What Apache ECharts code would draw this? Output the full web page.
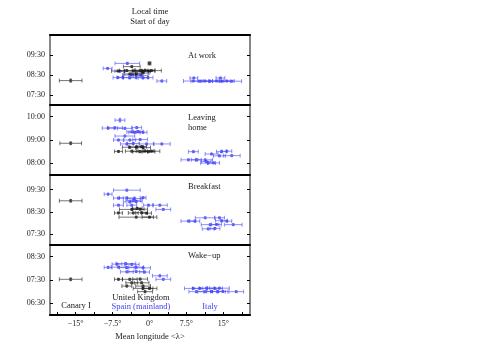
<!DOCTYPE html>
<html><head><meta charset="utf-8">
<script src="https://cdn.jsdelivr.net/npm/echarts@6/dist/echarts.min.js"></script>
<style>html,body{margin:0;padding:0;background:#fff}#c{width:500px;height:350px}</style>
</head><body><div id="c"></div>
<script>
// Each row: [mean longitude, longitude spread, local time (hours), time error (hours), group 0=black(UK/Canary) 1=blue(Spain/Italy)]
const atWork = [
  [-16.0,2.3,8.22,0.08,0],
  [-8.5,0.9,8.83,0.04,1],[-4.5,2.5,9.08,0.05,1],[-6.0,1.0,8.69,0.04,1],
  [-6.4,1.0,8.37,0.04,1],[-5.4,1.2,8.38,0.04,1],[-4.0,1.3,8.36,0.04,1],[-2.7,1.2,8.38,0.04,1],[-1.3,1.0,8.36,0.04,1],[-0.3,1.0,8.37,0.04,1],
  [-3.5,2.0,8.5,0.04,1],[-1.8,1.5,8.48,0.04,1],
  [2.5,1.0,8.2,0.05,1],
  [8.9,2.0,8.2,0.04,1],[10.2,1.8,8.19,0.04,1],[11.3,1.5,8.2,0.04,1],[12.3,1.8,8.19,0.04,1],[13.6,1.5,8.2,0.04,1],[14.6,1.8,8.19,0.04,1],[15.7,1.5,8.2,0.04,1],[16.7,2.0,8.19,0.04,1],
  [9.0,0.8,8.35,0.04,1],[14.4,0.9,8.35,0.04,1],
  [0.0,0.3,9.08,0.08,0],[-3.6,1.7,8.92,0.04,0],
  [-6.4,1.3,8.7,0.04,0],[-4.6,1.5,8.72,0.04,0],[-3.3,1.8,8.7,0.04,0],[-1.9,1.6,8.72,0.04,0],[-1.3,1.5,8.68,0.04,0],[-0.9,2.0,8.74,0.04,0],[-0.2,1.3,8.7,0.04,0],[0.4,2.0,8.72,0.04,0],
  [-4.0,1.2,8.55,0.04,0],[-2.7,1.0,8.55,0.04,0],[-1.3,1.2,8.6,0.04,0]
];
const leavingHome = [
  [-16.0,2.2,8.86,0.06,0],
  [-6.0,1.0,9.85,0.08,1],
  [-8.4,1.2,9.51,0.04,1],[-7.0,1.5,9.52,0.04,1],[-5.0,1.5,9.5,0.04,1],[-2.6,1.0,9.53,0.04,1],
  [-3.6,1.0,9.35,0.04,1],[-3.0,1.2,9.33,0.04,1],[-2.3,1.0,9.36,0.04,1],[-1.3,0.8,9.33,0.04,1],
  [-5.0,2.0,9.17,0.04,1],
  [-6.3,1.0,9.0,0.04,1],[-4.0,1.2,9.0,0.04,1],[-1.9,1.5,9.02,0.04,1],
  [-4.6,1.3,8.83,0.04,1],[-3.3,1.2,8.85,0.04,1],[-0.6,1.5,8.83,0.04,1],[2.5,1.7,8.83,0.04,1],
  [8.9,1.0,8.5,0.04,1],[14.6,1.0,8.5,0.04,1],[15.7,1.0,8.52,0.04,1],[12.6,1.3,8.4,0.04,1],[14.2,1.2,8.32,0.04,1],[16.7,1.7,8.33,0.04,1],
  [7.9,1.5,8.15,0.04,1],[9.5,1.0,8.15,0.04,1],[11.3,1.5,8.15,0.04,1],[11.9,1.5,8.01,0.04,1],[13.0,1.2,8.02,0.04,1],[11.5,1.0,8.08,0.04,1],
  [-4.0,1.5,8.69,0.04,0],[-2.7,1.5,8.7,0.04,0],[-1.6,1.0,8.72,0.04,0],[-1.3,1.5,8.67,0.04,0],
  [-6.3,0.8,8.51,0.04,0],[-3.6,1.3,8.52,0.04,0],[-1.9,1.5,8.5,0.04,0],[-0.9,1.8,8.53,0.04,0],[-0.2,1.3,8.5,0.04,0],[0.4,1.7,8.52,0.04,0]
];
const breakfast = [
  [-16.0,2.3,9.0,0.06,0],
  [-4.6,2.7,9.48,0.04,1],[-8.4,0.8,9.3,0.04,1],
  [-6.3,1.0,9.12,0.04,1],[-4.6,1.5,9.13,0.04,1],[-3.0,1.5,9.1,0.04,1],[-1.3,0.6,9.14,0.04,1],
  [-4.0,1.3,8.95,0.04,1],[-2.7,1.2,8.97,0.04,1],[-3.3,1.5,9.02,0.04,1],
  [-6.3,1.0,8.8,0.04,1],[-3.6,1.0,8.8,0.04,1],[-0.2,1.0,8.8,0.04,1],[2.1,1.5,8.8,0.04,1],
  [2.8,1.5,8.61,0.04,1],
  [11.3,2.0,8.23,0.04,1],[14.2,1.0,8.23,0.04,1],[7.9,1.5,8.08,0.04,1],[9.2,1.0,8.08,0.04,1],[14.6,1.2,8.1,0.04,1],[15.7,1.0,8.08,0.04,1],
  [12.3,1.8,7.92,0.04,1],[13.6,1.0,7.93,0.04,1],[17.0,1.8,7.92,0.04,1],[11.9,1.2,7.73,0.04,1],[13.3,1.0,7.75,0.04,1],
  [-3.6,2.5,8.61,0.04,0],[-1.9,1.5,8.62,0.04,0],[-2.5,1.0,8.66,0.04,0],
  [-6.3,0.8,8.45,0.04,0],[-3.3,1.0,8.45,0.04,0],[-1.6,1.2,8.46,0.04,0],[-0.6,1.0,8.44,0.04,0],
  [-2.7,3.5,8.26,0.04,0],[0.0,1.5,8.26,0.04,0]
];
const wakeUp = [
  [-16.0,2.3,7.53,0.06,0],
  [-6.6,1.0,8.18,0.04,1],[-4.8,2.0,8.2,0.04,1],[-3.6,1.5,8.17,0.04,1],
  [-8.4,0.8,8.04,0.04,1],[-6.3,1.5,8.05,0.04,1],[-4.6,1.5,8.03,0.04,1],[-2.7,1.5,8.05,0.04,1],[-1.3,1.5,8.02,0.04,1],
  [-4.6,1.3,7.85,0.04,1],[-2.7,1.5,7.86,0.04,1],[-1.0,1.0,7.84,0.04,1],
  [2.1,1.5,7.68,0.04,1],[2.8,1.5,7.53,0.04,1],
  [8.9,1.8,7.14,0.04,1],[10.2,1.5,7.14,0.04,1],[11.6,1.5,7.15,0.04,1],[13.3,1.5,7.14,0.04,1],[14.2,2.0,7.15,0.04,1],
  [9.5,1.5,7.0,0.04,1],[11.3,1.5,7.0,0.04,1],[12.6,1.0,7.01,0.04,1],[13.9,1.5,7.0,0.04,1],[14.9,1.0,7.01,0.04,1],[17.6,1.5,7.0,0.04,1],
  [-6.3,0.8,7.53,0.04,0],[-4.0,1.5,7.53,0.04,0],[-1.9,1.5,7.54,0.04,0],
  [-3.6,1.2,7.38,0.04,0],[-1.6,1.5,7.38,0.04,0],
  [-4.6,1.0,7.24,0.04,0],[-1.3,1.5,7.24,0.04,0],
  [-1.3,2.0,7.14,0.04,0],[0.0,1.5,7.14,0.04,0],
  [-0.9,1.5,7.0,0.04,0]
];
const panels = [atWork, leavingHome, breakfast, wakeUp];
const panelNames = ['At work', 'Leaving\nhome', 'Breakfast', 'Wake\u2212up'];
const yRanges = [[7.0, 10.5], [7.5, 10.5], [7.0, 10.1667], [6.0, 9.0]];
const yTicks = [[7.5, 8.5, 9.5], [8, 9, 10], [7.5, 8.5, 9.5], [6.5, 7.5, 8.5]];
const xRange = [-20.2, 20.4];
const xLabelTicks = [-15, -7.5, 0, 7.5, 15];
const xMinorTicks = [-18.75, -15, -11.25, -7.5, -3.75, 0, 3.75, 7.5, 11.25, 15, 18.75];

const FONT = 'Liberation Serif';
const BLUE = '#4343f7', BLACK = '#1a1a1a';
const chart = echarts.init(document.getElementById('c'));

function fmtTime(v){
  const h = Math.floor(v + 1e-6), m = Math.round((v - h) * 60);
  return String(h).padStart(2,'0') + ':' + String(m).padStart(2,'0');
}
function fmtLon(v){ return (v < 0 ? '\u2212' + (-v) : String(v)) + '\u00b0'; }

function renderItem(params, api){
  const x = api.value(0), e = api.value(1), y = api.value(2), ye = api.value(3);
  const c = api.value(4) === 1 ? BLUE : BLACK;
  const p0 = api.coord([x - e, y]), p1 = api.coord([x + e, y]), pc = api.coord([x, y]);
  const q0 = api.coord([x, y - ye]), q1 = api.coord([x, y + ye]);
  const st = {stroke: c, lineWidth: 0.6, fill: null};
  const cap = 2, hc = 1.1;
  return {type: 'group', children: [
    {type:'line', shape:{x1:p0[0], y1:p0[1], x2:p1[0], y2:p1[1]}, style:st},
    {type:'line', shape:{x1:p0[0], y1:p0[1]-cap, x2:p0[0], y2:p0[1]+cap}, style:st},
    {type:'line', shape:{x1:p1[0], y1:p1[1]-cap, x2:p1[0], y2:p1[1]+cap}, style:st},
    {type:'line', shape:{x1:q0[0], y1:q0[1], x2:q1[0], y2:q1[1]}, style:st},
    {type:'line', shape:{x1:q0[0]-hc, y1:q0[1], x2:q0[0]+hc, y2:q0[1]}, style:st},
    {type:'line', shape:{x1:q1[0]-hc, y1:q1[1], x2:q1[0]+hc, y2:q1[1]}, style:st},
    {type:'rect', shape:{x:pc[0]-1, y:pc[1]-1, width:2, height:2}, style:{stroke:c, lineWidth:0.6, fill:null}}
  ]};
}

const grids = [], xAxes = [], yAxes = [], series = [];
const tops = [35, 105, 175, 245];
panels.forEach((data, i) => {
  grids.push({left: 50, width: 200, top: tops[i], height: 70});
  const last = i === panels.length - 1;
  xAxes.push({
    type: 'value', gridIndex: i, min: xRange[0], max: xRange[1], position: 'bottom',
    axisLine: {show: true, onZero: false, lineStyle: {color: '#000', width: 2}},
    axisTick: {show: last, inside: true, length: 3, customValues: xMinorTicks, lineStyle: {color: '#000', width: 1}},
    axisLabel: {show: last, customValues: xLabelTicks, formatter: fmtLon, fontFamily: FONT, fontSize: 8, color: '#222', margin: 5},
    splitLine: {show: false},
    name: last ? 'Mean longitude <\u03bb>' : '', nameLocation: 'middle', nameGap: 17,
    nameTextStyle: {fontFamily: FONT, fontSize: 8.5, color: '#222'}
  });
  yAxes.push({
    type: 'value', gridIndex: i, min: yRanges[i][0], max: yRanges[i][1], position: 'left',
    axisLine: {show: true, onZero: false, lineStyle: {color: '#888', width: 2}},
    axisTick: {show: true, inside: true, length: 3, customValues: yTicks[i], lineStyle: {color: '#000'}},
    axisLabel: {customValues: yTicks[i], formatter: fmtTime, fontFamily: FONT, fontSize: 8, color: '#222', margin: 5},
    splitLine: {show: false}
  });
  yAxes.push({
    type: 'value', gridIndex: i, min: yRanges[i][0], max: yRanges[i][1], position: 'right',
    axisLine: {show: true, onZero: false, lineStyle: {color: '#888', width: 2}},
    axisTick: {show: true, inside: true, length: 3, customValues: yTicks[i], lineStyle: {color: '#000'}},
    axisLabel: {show: false}, splitLine: {show: false}
  });
  const blueRows = data.filter(r => r[4] === 1), blackRows = data.filter(r => r[4] === 0);
  [blueRows, blackRows].forEach(rows => {
    series.push({type: 'custom', xAxisIndex: i, yAxisIndex: 2 * i, renderItem: renderItem,
      data: rows, silent: true, animation: false, clip: true});
  });
});
// top border axis
xAxes.push({type: 'value', gridIndex: 0, min: xRange[0], max: xRange[1], position: 'top',
  axisLine: {show: true, onZero: false, lineStyle: {color: '#000', width: 2}}, axisTick: {show: false},
  axisLabel: {show: false}, splitLine: {show: false}});

const textStyle = (t, x, y, color, align) => ({type: 'text', x: x, y: y,
  style: {text: t, fill: color || '#222', font: '8.5px "' + FONT + '"', textAlign: align || 'left', textVerticalAlign: 'middle'}});

const graphics = [
  textStyle('Local time', 150, 12, '#222', 'center'),
  textStyle('Start of day', 150, 22, '#222', 'center'),
  textStyle('Canary I', 76, 306, '#222', 'center'),
  textStyle('United Kingdom', 141, 298, '#222', 'center'),
  textStyle('Spain (mainland)', 141, 307, BLUE, 'center'),
  textStyle('Italy', 210, 307, BLUE, 'center')
];
const nameY = [56, 118, 187, 256];
panelNames.forEach((n, i) => {
  n.split('\n').forEach((line, k) => graphics.push(textStyle(line, 188, nameY[i] + k * 10, '#222', 'left')));
});

chart.setOption({
  animation: false,
  grid: grids, xAxis: xAxes, yAxis: yAxes, series: series, graphic: graphics
});
</script></body></html>
